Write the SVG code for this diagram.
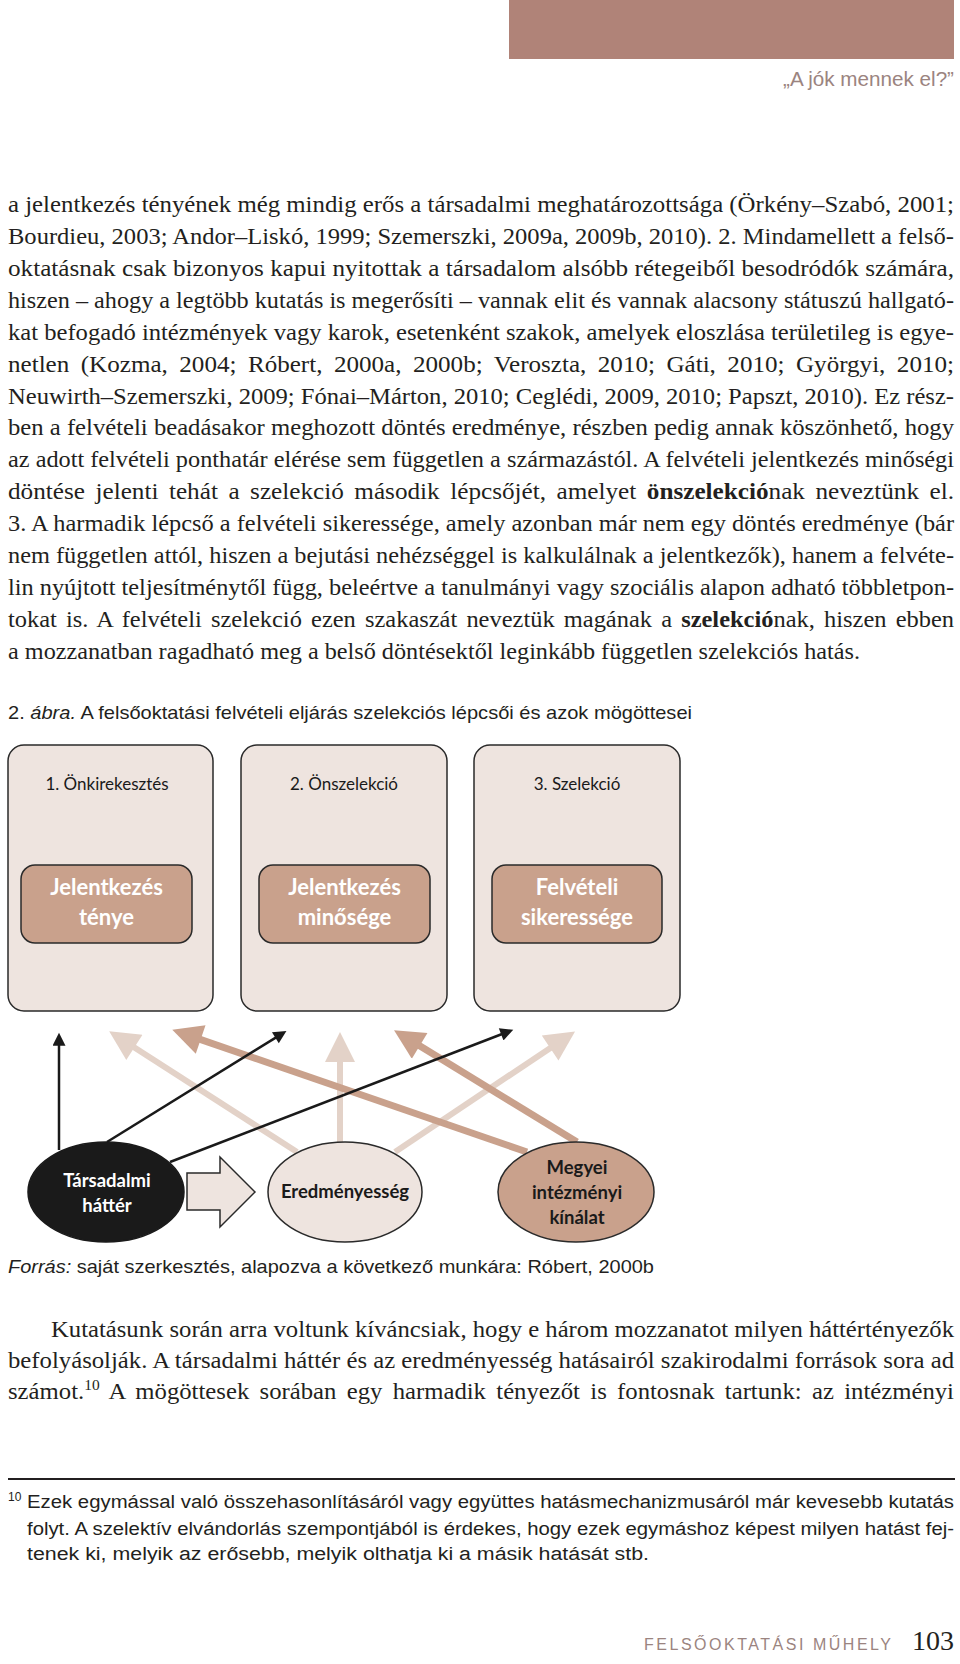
<svg xmlns="http://www.w3.org/2000/svg" width="960" height="1664" viewBox="0 0 960 1664">
<style>
.body{font-family:"Liberation Serif","Times New Roman",serif;font-size:24px;fill:#231f20}
.sans{font-family:"Liberation Sans",Arial,sans-serif;fill:#231f20}
.dia{font-family:Lato,"Open Sans",sans-serif}
.outer{fill:#eee4df;stroke:#2a2a2a;stroke-width:1.5}
.inner{fill:#c9a18c;stroke:#2a2a2a;stroke-width:1.5}
.title{font-size:17px;fill:#1a1a1a;text-anchor:middle}
.itext{font-size:22px;font-weight:bold;fill:#ffffff;text-anchor:middle}
.etext{font-size:18.5px;font-weight:bold;text-anchor:middle}
.ablack{stroke:#1a1a1a;stroke-width:2.5;fill:none}
.alight{stroke:#e3d2c8;stroke-width:6;fill:none}
.atan{stroke:#c9a18c;stroke-width:7;fill:none}
</style>
<defs>
<marker id="mBlack" viewBox="0 0 10 10" refX="4" refY="5" markerUnits="userSpaceOnUse" markerWidth="16" markerHeight="13" orient="auto"><path d="M0,0 L10,5 L0,10 Z" fill="#1a1a1a"/></marker>
<marker id="mLight" viewBox="0 0 10 10" refX="4" refY="5" markerUnits="userSpaceOnUse" markerWidth="34" markerHeight="30" orient="auto"><path d="M0,0 L10,5 L0,10 Z" fill="#e3d2c8"/></marker>
<marker id="mTan" viewBox="0 0 10 10" refX="4" refY="5" markerUnits="userSpaceOnUse" markerWidth="34" markerHeight="30" orient="auto"><path d="M0,0 L10,5 L0,10 Z" fill="#c9a18c"/></marker>
</defs>
<rect width="960" height="1664" fill="#ffffff"/>

<g id="header">
<rect x="509" y="0" width="445" height="59" fill="#b08378"/>
<text x="783" y="86" font-family="Liberation Sans, Arial, sans-serif" class="sans" style="font-size:20px;fill:#9b8480" textLength="171" lengthAdjust="spacingAndGlyphs">„A jók mennek el?”</text>
</g>

<g id="paragraph1" class="body" font-family="Liberation Serif, Times New Roman, serif">
<text x="8" y="212" textLength="946" lengthAdjust="spacingAndGlyphs">a jelentkezés tényének még mindig erős a társadalmi meghatározottsága (Örkény–Szabó, 2001;</text>
<text x="8" y="244" textLength="946" lengthAdjust="spacingAndGlyphs">Bourdieu, 2003; Andor–Liskó, 1999; Szemerszki, 2009a, 2009b, 2010). 2. Mindamellett a felső-</text>
<text x="8" y="276" textLength="946" lengthAdjust="spacingAndGlyphs">oktatásnak csak bizonyos kapui nyitottak a társadalom alsóbb rétegeiből besodródók számára,</text>
<text x="8" y="308" textLength="946" lengthAdjust="spacingAndGlyphs">hiszen – ahogy a legtöbb kutatás is megerősíti – vannak elit és vannak alacsony státuszú hallgató-</text>
<text x="8" y="340" textLength="946" lengthAdjust="spacingAndGlyphs">kat befogadó intézmények vagy karok, esetenként szakok, amelyek eloszlása területileg is egye-</text>
<text x="8" y="372" textLength="946" lengthAdjust="spacingAndGlyphs" word-spacing="5">netlen (Kozma, 2004; Róbert, 2000a, 2000b; Veroszta, 2010; Gáti, 2010; Györgyi, 2010;</text>
<text x="8" y="404" textLength="946" lengthAdjust="spacingAndGlyphs">Neuwirth–Szemerszki, 2009; Fónai–Márton, 2010; Ceglédi, 2009, 2010; Papszt, 2010). Ez rész-</text>
<text x="8" y="435" textLength="946" lengthAdjust="spacingAndGlyphs">ben a felvételi beadásakor meghozott döntés eredménye, részben pedig annak köszönhető, hogy</text>
<text x="8" y="467" textLength="946" lengthAdjust="spacingAndGlyphs">az adott felvételi ponthatár elérése sem független a származástól. A felvételi jelentkezés minőségi</text>
<text x="8" y="499" textLength="946" lengthAdjust="spacingAndGlyphs" word-spacing="4">döntése jelenti tehát a szelekció második lépcsőjét, amelyet <tspan font-weight="bold">önszelekció</tspan>nak neveztünk el.</text>
<text x="8" y="531" textLength="946" lengthAdjust="spacingAndGlyphs">3. A harmadik lépcső a felvételi sikeressége, amely azonban már nem egy döntés eredménye (bár</text>
<text x="8" y="563" textLength="946" lengthAdjust="spacingAndGlyphs">nem független attól, hiszen a bejutási nehézséggel is kalkulálnak a jelentkezők), hanem a felvéte-</text>
<text x="8" y="595" textLength="946" lengthAdjust="spacingAndGlyphs">lin nyújtott teljesítménytől függ, beleértve a tanulmányi vagy szociális alapon adható többletpon-</text>
<text x="8" y="627" textLength="946" lengthAdjust="spacingAndGlyphs" word-spacing="3">tokat is. A felvételi szelekció ezen szakaszát neveztük magának a <tspan font-weight="bold">szelekció</tspan>nak, hiszen ebben</text>
<text x="8" y="659" textLength="852" lengthAdjust="spacingAndGlyphs">a mozzanatban ragadható meg a belső döntésektől leginkább független szelekciós hatás.</text>
</g>

<text id="caption" x="8" y="719" font-family="Liberation Sans, Arial, sans-serif" class="sans" style="font-size:18.5px" textLength="684" lengthAdjust="spacingAndGlyphs">2. <tspan font-style="italic">ábra.</tspan> A  felsőoktatási felvételi eljárás szelekciós lépcsői és azok mögöttesei</text>

<g id="stage1" class="dia">
<rect class="outer" x="8" y="745" width="205" height="266" rx="16"/>
<text class="title" x="107" y="790">1. Önkirekesztés</text>
<rect class="inner" x="21" y="865" width="171" height="78" rx="14"/>
<text class="itext" x="106.5" y="895">Jelentkezés</text>
<text class="itext" x="106.5" y="925">ténye</text>
</g>
<g id="stage2" class="dia">
<rect class="outer" x="241" y="745" width="206" height="266" rx="16"/>
<text class="title" x="344" y="790">2. Önszelekció</text>
<rect class="inner" x="259" y="865" width="171" height="78" rx="14"/>
<text class="itext" x="344.5" y="895">Jelentkezés</text>
<text class="itext" x="344.5" y="925">minősége</text>
</g>
<g id="stage3" class="dia">
<rect class="outer" x="474" y="745" width="206" height="266" rx="16"/>
<text class="title" x="577" y="790">3. Szelekció</text>
<rect class="inner" x="492" y="865" width="170" height="78" rx="14"/>
<text class="itext" x="577" y="895">Felvételi</text>
<text class="itext" x="577" y="925">sikeressége</text>
</g>

<g id="connectors">
<line class="alight" x1="297" y1="1152" x2="124.3" y2="1041.0" marker-end="url(#mLight)"/>
<line class="alight" x1="340" y1="1142" x2="340" y2="1050" marker-end="url(#mLight)"/>
<line class="alight" x1="395" y1="1152" x2="560.1" y2="1041.4" marker-end="url(#mLight)"/>
<line class="atan" x1="527" y1="1152" x2="189.3" y2="1035.6" marker-end="url(#mTan)"/>
<line class="atan" x1="577" y1="1142" x2="409.4" y2="1039.6" marker-end="url(#mTan)"/>
<line class="ablack" x1="59" y1="1150" x2="59" y2="1040.6" marker-end="url(#mBlack)"/>
<line class="ablack" x1="107" y1="1142" x2="279.8" y2="1035.1" marker-end="url(#mBlack)"/>
<line class="ablack" x1="170" y1="1162" x2="506.0" y2="1032.5" marker-end="url(#mBlack)"/>
<polygon points="187,1173 220,1173 220,1157 255,1192 220,1227 220,1210 187,1210" fill="#eee4df" stroke="#2a2a2a" stroke-width="1.5"/>
</g>

<g id="tarsadalmi" class="dia">
<ellipse cx="106" cy="1192" rx="78" ry="50" fill="#1a1a1a" stroke="#1a1a1a" stroke-width="1.5"/>
<text class="etext" x="107" y="1187" fill="#ffffff">Társadalmi</text>
<text class="etext" x="107" y="1212" fill="#ffffff">háttér</text>
</g>
<g id="eredmenyesseg" class="dia">
<ellipse cx="345" cy="1192" rx="77" ry="50" fill="#eee4df" stroke="#2a2a2a" stroke-width="1.5"/>
<text class="etext" x="345" y="1198" fill="#1a1a1a">Eredményesség</text>
</g>
<g id="megyei" class="dia">
<ellipse cx="576" cy="1192" rx="78" ry="50" fill="#c9a18c" stroke="#2a2a2a" stroke-width="1.5"/>
<text class="etext" x="577" y="1174" fill="#1a1a1a">Megyei</text>
<text class="etext" x="577" y="1199" fill="#1a1a1a">intézményi</text>
<text class="etext" x="577" y="1224" fill="#1a1a1a">kínálat</text>
</g>

<text id="source" x="8" y="1273" font-family="Liberation Sans, Arial, sans-serif" class="sans" style="font-size:18.5px" textLength="646" lengthAdjust="spacingAndGlyphs"><tspan font-style="italic">Forrás:</tspan> saját szerkesztés, alapozva a  következő munkára: Róbert, 2000b</text>

<g id="paragraph2" class="body" font-family="Liberation Serif, Times New Roman, serif">
<text x="51" y="1337" textLength="903" lengthAdjust="spacingAndGlyphs">Kutatásunk során arra voltunk kíváncsiak, hogy e három mozzanatot milyen háttértényezők</text>
<text x="8" y="1368" textLength="946" lengthAdjust="spacingAndGlyphs">befolyásolják. A társadalmi háttér és az eredményesség hatásairól szakirodalmi források sora ad</text>
<text x="8" y="1399" textLength="946" lengthAdjust="spacingAndGlyphs" word-spacing="4">számot.<tspan font-size="15" dy="-9">10</tspan><tspan dy="9"> A mögöttesek sorában egy harmadik tényezőt is fontosnak tartunk: az intézményi</tspan></text>
</g>

<g id="footnote" class="sans" font-family="Liberation Sans, Arial, sans-serif">
<line x1="8" y1="1479" x2="955" y2="1479" stroke="#231f20" stroke-width="1.8"/>
<text x="8" y="1501" style="font-size:12px">10</text>
<text x="27" y="1508" style="font-size:18px" textLength="927" lengthAdjust="spacingAndGlyphs">Ezek egymással való összehasonlításáról vagy együttes hatásmechanizmusáról már kevesebb kutatás</text>
<text x="27" y="1535" style="font-size:18px" textLength="927" lengthAdjust="spacingAndGlyphs">folyt. A  szelektív elvándorlás szempontjából is érdekes, hogy ezek egymáshoz képest milyen hatást fej-</text>
<text x="27" y="1560" style="font-size:18px" textLength="622" lengthAdjust="spacingAndGlyphs">tenek ki, melyik az erősebb, melyik olthatja ki a  másik hatását stb.</text>
</g>

<g id="footer">
<text x="644" y="1650" font-family="Liberation Sans, Arial, sans-serif" class="sans" style="font-size:16px;fill:#9b8480" textLength="247" lengthAdjust="spacing">FELSŐOKTATÁSI MŰHELY</text>
<text x="912" y="1650" font-family="Liberation Serif, Times New Roman, serif" class="body" style="font-size:28px" textLength="42" lengthAdjust="spacingAndGlyphs">103</text>
</g>
</svg>
